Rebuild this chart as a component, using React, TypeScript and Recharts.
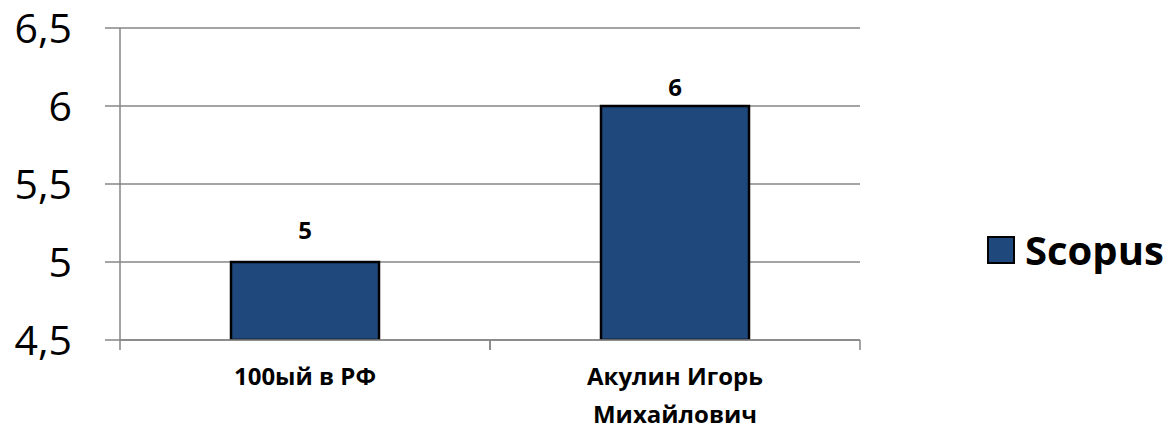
import React from "react";
import { BarChart, Bar, XAxis, YAxis, CartesianGrid, LabelList, Text } from "recharts";

const categories = ["100ый в РФ", "Акулин Игорь Михайлович"];
const scopusValues = [5, 6];
const yTicks = [4.5, 5, 5.5, 6, 6.5];
const seriesName = "Scopus";

const data = categories.map((c, i) => ({ name: c, Scopus: scopusValues[i] }));

const W = 1169;
const H = 432;
const xAxisHeight = 30;
const margin = { top: 28, right: 309, bottom: 92 - xAxisHeight, left: 0 };
const yAxisWidth = 120;
const plotWidth = W - margin.left - margin.right - yAxisWidth;
const halfBand = plotWidth / categories.length / 2;
const FONT = "'Open Sans', sans-serif";
const GRID = "#868686";
const BAR = "#1F497D";

const XTick = (props: any) => {
  const { x, y, payload } = props;
  return (
    <g>
      <line x1={x - halfBand} x2={x - halfBand} y1={y - 8} y2={y + 2} stroke={GRID} strokeWidth={1.5} />
      <line x1={x + halfBand} x2={x + halfBand} y1={y - 8} y2={y + 2} stroke={GRID} strokeWidth={1.5} />
      <Text
        x={x}
        y={y + 20}
        width={230}
        textAnchor="middle"
        verticalAnchor="start"
        lineHeight={38}
        style={{ fontFamily: FONT, fontWeight: 700, fontSize: 24, fill: "#000" }}
      >
        {payload.value}
      </Text>
    </g>
  );
};

const BarLabel = (props: any) => {
  const { x, y, width, value, index } = props;
  const off = index === 0 ? 23 : 10;
  return (
    <text
      x={x + width / 2}
      y={y - off}
      textAnchor="middle"
      style={{ fontFamily: FONT, fontWeight: 700, fontSize: 24, fill: "#000" }}
    >
      {value}
    </text>
  );
};

export default function App() {
  return (
    <div style={{ position: "absolute", left: 0, top: 0, width: W, height: H, background: "#fff" }}>
      <BarChart width={W} height={H} data={data} margin={margin} barCategoryGap="30%">
        <CartesianGrid vertical={false} stroke={GRID} strokeWidth={1.5} />
        <XAxis
          dataKey="name"
          height={xAxisHeight}
          axisLine={{ stroke: GRID, strokeWidth: 1.5 }}
          tickLine={false}
          tick={<XTick />}
          interval={0}
        />
        <YAxis
          width={yAxisWidth}
          domain={[4.5, 6.5]}
          ticks={yTicks}
          interval={0}
          allowDataOverflow
          axisLine={{ stroke: GRID, strokeWidth: 1.5 }}
          tickLine={{ stroke: GRID, strokeWidth: 1.5 }}
          tickSize={15}
          tickMargin={33}
          tickFormatter={(v: number) => String(v).replace(".", ",")}
          tick={{ fontFamily: FONT, fontSize: 41, fill: "#000" }}
        />
        <Bar dataKey="Scopus" fill={BAR} stroke="#000" strokeWidth={2.5} isAnimationActive={false}>
          <LabelList dataKey="Scopus" content={<BarLabel />} />
        </Bar>
      </BarChart>
      <div
        style={{
          position: "absolute",
          left: 987,
          top: 226,
          display: "flex",
          alignItems: "center",
          fontFamily: FONT,
          fontWeight: 700,
          fontSize: 40,
          color: "#000",
          lineHeight: 1.2,
        }}
      >
        <div style={{ width: 24, height: 24, background: BAR, border: "2.5px solid #000", marginRight: 10 }} />
        <span>{seriesName}</span>
      </div>
    </div>
  );
}
